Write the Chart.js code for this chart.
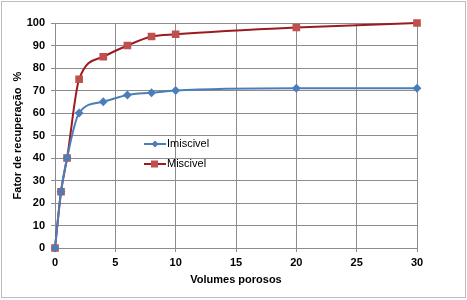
<!DOCTYPE html>
<html><head><meta charset="utf-8">
<script src="https://cdn.jsdelivr.net/npm/chart.js@4"></script>
<style>html,body{margin:0;padding:0;background:#fff}#wrap{position:relative;width:467px;height:300px}
#wrap:after{content:"";position:absolute;left:1px;top:1px;width:463px;height:295px;border:1px solid #bdbdbd;pointer-events:none}</style>
</head><body><div id="wrap"><canvas id="c" width="467" height="300"></canvas></div>
<script>
const volumes = [0, 0.5, 1, 2, 4, 6, 8, 10, 20, 30];
const imiscivel = [0, 25, 40, 60, 65, 68, 69, 70, 71, 71];
const miscivel = [0, 25, 40, 75, 85, 90, 94, 95, 98, 100];
const seriesNames = ['Imiscivel', 'Miscivel'];
const xTitle = 'Volumes porosos';
const yTitle = 'Fator de recuperação  %';

const toXY = (ys) => volumes.map((x, i) => ({x, y: ys[i]}));
const font = {family: 'Liberation Sans, Arial, sans-serif', size: 11, weight: 'bold'};

const legendPlugin = {
  id: 'innerLegend',
  afterDraw(chart) {
    const ctx = chart.ctx;
    const items = [
      {name: seriesNames[0], color: '#4A7EBB', pt: 'diamond', y: 144},
      {name: seriesNames[1], color: '#9B1B1F', mk: '#C0504D', pt: 'square', y: 164}
    ];
    ctx.save();
    items.forEach(it => {
      ctx.strokeStyle = it.color; ctx.lineWidth = 2;
      ctx.beginPath(); ctx.moveTo(144, it.y); ctx.lineTo(166, it.y); ctx.stroke();
      ctx.fillStyle = it.mk || it.color;
      if (it.pt === 'square') { ctx.fillRect(151, it.y - 3.5, 7, 7); }
      else { ctx.beginPath(); ctx.moveTo(155, it.y - 3.5); ctx.lineTo(158.5, it.y); ctx.lineTo(155, it.y + 3.5); ctx.lineTo(151.5, it.y); ctx.closePath(); ctx.fill(); }
      ctx.fillStyle = '#000'; ctx.font = '11px "Liberation Sans", Arial, sans-serif';
      ctx.textBaseline = 'middle'; ctx.textAlign = 'left';
      ctx.fillText(it.name, 167, it.y);
    });
    ctx.restore();
  }
};

new Chart(document.getElementById('c'), {
  type: 'scatter',
  data: {datasets: [
    {label: seriesNames[0], data: toXY(imiscivel), showLine: true, borderColor: '#4A7EBB', backgroundColor: '#4A7EBB', borderWidth: 2, pointStyle: 'rectRot', pointRadius: 3, cubicInterpolationMode: 'monotone'},
    {label: seriesNames[1], data: toXY(miscivel), showLine: true, borderColor: '#9B1B1F', backgroundColor: '#C0504D', pointBorderColor: '#C0504D', borderWidth: 2, pointStyle: 'rect', pointRadius: 4, cubicInterpolationMode: 'monotone'}
  ]},
  options: {
    responsive: false, animation: false, clip: false,
    layout: {padding: {top: 23, right: 50, left: 11, bottom: 13}},
    plugins: {legend: {display: false}, tooltip: {enabled: false}},
    scales: {
      x: {type: 'linear', min: 0, max: 30,
        ticks: {stepSize: 5, color: '#000', font, padding: 4, maxRotation: 0},
        grid: {color: '#8c8c8c', tickLength: 4, tickColor: '#8c8c8c'},
        border: {color: '#8c8c8c'},
        title: {display: true, text: xTitle, color: '#000', font, padding: {top: 2, bottom: 0}},
        afterFit(s) { s.height = 39; }
      },
      y: {min: 0, max: 100,
        ticks: {stepSize: 10, color: '#000', font, padding: 6},
        grid: {color: '#8c8c8c', tickLength: 4, tickColor: '#8c8c8c'},
        border: {color: '#8c8c8c'},
        title: {display: true, text: yTitle, color: '#000', font, padding: {top: 0, bottom: 0}},
        afterFit(s) { s.width = 44; }
      }
    }
  },
  plugins: [legendPlugin]
});
</script></body></html>
